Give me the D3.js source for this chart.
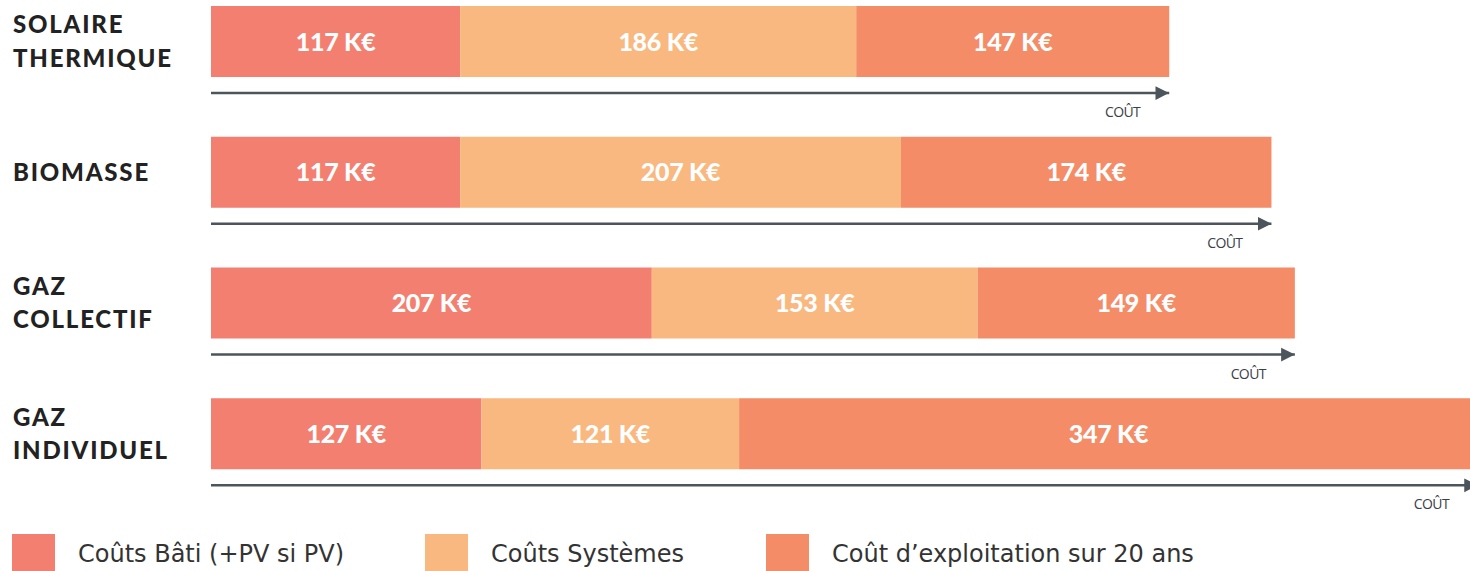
<!DOCTYPE html>
<html>
<head>
<meta charset="utf-8">
<script src="https://cdn.jsdelivr.net/npm/d3@7"></script>
<style>
  body { margin: 0; background: #fff; }
  svg { display: block; }
</style>
</head>
<body>
<div class="chart"></div>
<script>
// data
var systems = ["SOLAIRE\nTHERMIQUE", "BIOMASSE", "GAZ\nCOLLECTIF", "GAZ\nINDIVIDUEL"];
var coutsBati = [117, 117, 207, 127];
var coutsSystemes = [186, 207, 153, 121];
var coutsExploitation = [147, 174, 149, 347];
var seriesNames = ["Coûts Bâti (+PV si PV)", "Coûts Systèmes", "Coût d\u2019exploitation sur 20 ans"];
var seriesColors = ["#f37f71", "#f9b880", "#f48c68"];
var axisLabel = "COÛT";

var svgWidth = 1470;
var svgHeight = 571;

var svg = d3.select(".chart")
  .append("svg")
  .attr("width", svgWidth)
  .attr("height", svgHeight);

var rows = systems.map(function(name, i) {
  return { name: name, values: [coutsBati[i], coutsSystemes[i], coutsExploitation[i]] };
});

var stack = d3.stack().keys([0, 1, 2])(rows.map(function(r) { return r.values; }));

// x scale: 0 -> left edge of bars
var xScale = d3.scaleLinear()
  .domain([0, 595])
  .range([211, 1478]);

// y bands for each row (bar + axis below)
var yScale = d3.scaleBand()
  .domain(d3.range(systems.length))
  .range([6, 529])
  .paddingInner(0);

var barHeight = 71;

var defs = svg.append("defs");
defs.append("marker")
  .attr("id", "arrow")
  .attr("viewBox", "0 0 10 10")
  .attr("refX", 10)
  .attr("refY", 5)
  .attr("markerWidth", 5.5)
  .attr("markerHeight", 6.5)
  .attr("markerUnits", "strokeWidth")
  .attr("orient", "auto")
  .append("path")
  .attr("d", "M0,0L10,5L0,10Z")
  .attr("fill", "#4d555c");

// segments
var layers = svg.selectAll("g.layer")
  .data(stack)
  .enter()
  .append("g")
  .attr("class", "layer")
  .attr("fill", function(d, i) { return seriesColors[i]; });

layers.selectAll("rect")
  .data(function(d) { return d; })
  .enter()
  .append("rect")
  .attr("x", function(d) { return xScale(d[0]); })
  .attr("y", function(d, i) { return yScale(i); })
  .attr("width", function(d) { return xScale(d[1]) - xScale(d[0]); })
  .attr("height", barHeight);

// value labels
layers.selectAll("text")
  .data(function(d) { return d; })
  .enter()
  .append("text")
  .attr("x", function(d) { return (xScale(d[0]) + xScale(d[1])) / 2; })
  .attr("y", function(d, i) { return yScale(i) + barHeight / 2; })
  .attr("dy", "0.36em")
  .attr("text-anchor", "middle")
  .style("fill", "#fff")
  .style("font-family", "Lato, 'Open Sans', sans-serif")
  .style("font-weight", "900")
  .style("font-size", "25px")
  .style("letter-spacing", "-0.3px")
  .text(function(d) { return (d[1] - d[0]) + " K€"; });

// cost arrows under each bar
var totals = rows.map(function(r) { return d3.sum(r.values); });

var arrows = svg.selectAll("g.cost-axis")
  .data(totals)
  .enter()
  .append("g")
  .attr("class", "cost-axis");

arrows.append("line")
  .attr("x1", xScale(0))
  .attr("x2", function(d) { return xScale(d); })
  .attr("y1", function(d, i) { return yScale(i) + barHeight + 16; })
  .attr("y2", function(d, i) { return yScale(i) + barHeight + 16; })
  .attr("stroke", "#4d555c")
  .attr("stroke-width", 2.5)
  .attr("marker-end", "url(#arrow)");

arrows.append("text")
  .attr("x", function(d) { return xScale(d) - 29; })
  .attr("y", function(d, i) { return yScale(i) + barHeight + 40; })
  .attr("text-anchor", "end")
  .style("fill", "#3a4046")
  .style("font-family", "'Open Sans', sans-serif")
  .style("font-size", "14px")
  .style("letter-spacing", "-0.6px")
  .text(axisLabel);

// row labels
var labels = svg.selectAll("text.row-label")
  .data(rows)
  .enter()
  .append("text")
  .attr("class", "row-label")
  .attr("x", 13)
  .attr("y", function(d, i) { return yScale(i) + barHeight / 2; })
  .style("fill", "#222")
  .style("font-family", "Lato, 'Open Sans', sans-serif")
  .style("font-weight", "900")
  .style("font-size", "24px")
  .style("letter-spacing", "1.8px");

labels.each(function(d) {
  var lines = d.name.split("\n");
  var t = d3.select(this);
  lines.forEach(function(line, j) {
    t.append("tspan")
      .attr("x", 13)
      .attr("dy", j === 0 ? ((0.36 - (lines.length - 1) * 0.7) + "em") : "1.4em")
      .text(line);
  });
});

// legend
var legendX = [12, 425, 766];
var legend = svg.selectAll("g.legend")
  .data(seriesNames)
  .enter()
  .append("g")
  .attr("class", "legend")
  .attr("transform", function(d, i) { return "translate(" + legendX[i] + ", 534)"; });

legend.append("rect")
  .attr("width", 43)
  .attr("height", 40)
  .attr("fill", function(d, i) { return seriesColors[i]; });

legend.append("text")
  .attr("x", 66)
  .attr("y", 28)
  .style("fill", "#333")
  .style("font-family", "'DejaVu Sans', sans-serif")
  .style("font-size", "24px")
  .text(function(d) { return d; });
</script>
</body>
</html>
